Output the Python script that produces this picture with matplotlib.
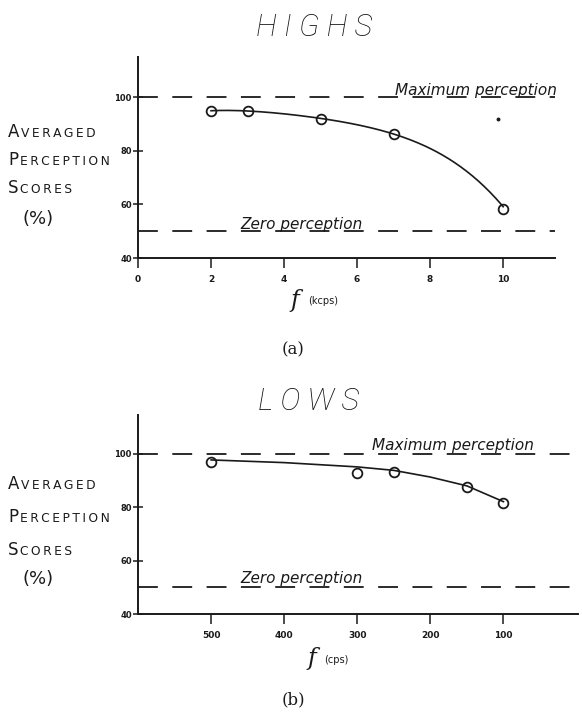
import numpy as np
import matplotlib
matplotlib.use("Agg")
import matplotlib.pyplot as plt

# (a) HIGHS, frequency in kcps
highs_f = [2, 3, 5, 7, 10]
highs_score = [95.0, 94.8, 92.0, 86.4, 58.3]
highs_xticks = [0, 2, 4, 6, 8, 10]
highs_stray = (9.85, 92.0)
# hand-drawn smooth curve
highs_curve_f = [2, 3, 4, 5, 6, 7, 8, 9, 10]
highs_curve_score = [95.0, 95.0, 93.8, 92.2, 89.7, 86.4, 81.0, 72.3, 59.2]

# (b) LOWS, frequency in cps
lows_f = [500, 300, 250, 150, 100]
lows_score = [97.0, 92.7, 93.0, 87.5, 81.5]
lows_xticks = [500, 400, 300, 200, 100]
lows_curve_f = [500, 400, 300, 250, 200, 150, 100]
lows_curve_score = [97.6, 96.6, 95.0, 93.7, 91.2, 87.9, 82.0]

yticks = [40, 60, 80, 100]
max_level = 100
zero_level = 50

W, H = 582, 712
INK = "#1a1a1a"
THIN = "\u2009"


def fpos(x, y):
    # pixel coords (from top-left) -> figure fraction
    return x / W, 1 - y / H


def smallcaps(fig, x, y, word, big=12, small=8.8):
    r = fig.canvas.get_renderer()
    t = fig.text(*fpos(x, y), word[0], fontsize=big, va="baseline", color=INK)
    bb = t.get_window_extent(r)
    rest = THIN.join(word[1:].upper())
    fig.text(bb.x1 / W + 0.003, 1 - y / H, rest, fontsize=small,
             va="baseline", color=INK)


def ylabel_block(fig, x, ys):
    for word, y in zip(["Averaged", "Perception", "Scores"], ys[:3]):
        smallcaps(fig, x, y, word)
    fig.text(*fpos(x + 14, ys[3]), "(%)", fontsize=13, va="baseline", color=INK)


def style_axes(ax, xlim, ylim, xticks):
    ax.set_xlim(*xlim)
    ax.set_ylim(*ylim)
    for s in ["top", "right"]:
        ax.spines[s].set_visible(False)
    for s in ["left", "bottom"]:
        ax.spines[s].set_linewidth(1.4)
        ax.spines[s].set_color(INK)
    ax.set_yticks(yticks)
    ax.set_xticks(xticks)
    ax.tick_params(axis="y", direction="inout", length=7, width=1.1,
                   labelsize=6, pad=1, colors=INK)
    ax.tick_params(axis="x", direction="out", length=7, width=1.1,
                   labelsize=6.5, pad=5, colors=INK)
    for lab in ax.get_xticklabels() + ax.get_yticklabels():
        lab.set_fontweight("bold")


def ref_lines(ax, x0, x1, max_text_x, zero_text_x, max_y_off, zero_y_off):
    kw = dict(color=INK, lw=1.3, dashes=(11, 8), clip_on=False)
    ax.plot([x0, x1], [max_level, max_level], **kw)
    ax.plot([x0, x1], [zero_level, zero_level], **kw)
    ax.text(max_text_x, max_level + max_y_off, "Maximum perception", fontsize=11,
            style="italic", va="baseline", ha="left", color=INK, clip_on=False)
    ax.text(zero_text_x, zero_level + zero_y_off, "Zero perception", fontsize=11,
            style="italic", va="baseline", ha="left", color=INK)


def smooth(x, y, deg):
    c = np.polyfit(x, y, deg)
    xs = np.linspace(min(x), max(x), 200)
    return xs, np.polyval(c, xs)


fig = plt.figure(figsize=(5.82, 7.12), dpi=100)

# ---- (a) HIGHS ----
ax1 = fig.add_axes([138 / W, 1 - 258 / H, 417 / W, 201 / H])
style_axes(ax1, (0, 11.42), (40, 115.1), highs_xticks)
ref_lines(ax1, 0, 11.42, 7.05, 2.8, max_y_off=0.8, zero_y_off=1.0)
ax1.plot(*smooth(highs_curve_f, highs_curve_score, 4), color=INK, lw=1.2)
ax1.plot(highs_f, highs_score, "o", mfc="none", mec=INK, mew=1.3, ms=7)
ax1.plot(*highs_stray, "o", color=INK, ms=1.8)

# ---- (b) LOWS ----
ax2 = fig.add_axes([138 / W, 1 - 614 / H, 440 / W, 199 / H])
style_axes(ax2, (600, -2), (40, 114.4), lows_xticks)
ref_lines(ax2, 600, 5, 280, 460, max_y_off=1.5, zero_y_off=1.5)
ax2.plot(lows_curve_f, lows_curve_score, color=INK, lw=1.2, solid_joinstyle="round")
ax2.plot(lows_f, lows_score, "o", mfc="none", mec=INK, mew=1.3, ms=7)

# titles and labels
title_kw = dict(fontsize=22, style="italic", family=["Roboto", "DejaVu Sans"],
                fontweight="light", ha="center", va="center", color="#111111")
fig.text(*fpos(314, 28), "H I G H S", **title_kw)
fig.text(*fpos(309, 402), "L O W S", **title_kw)

fig.text(*fpos(295, 300), "f", fontsize=17, family="DejaVu Serif",
         style="italic", ha="center", va="center", color=INK)
fig.text(*fpos(308, 301), "(kcps)", fontsize=7, ha="left", va="center", color=INK)
fig.text(*fpos(312, 659), "f", fontsize=17, family="DejaVu Serif",
         style="italic", ha="center", va="center", color=INK)
fig.text(*fpos(324, 660), "(cps)", fontsize=7, ha="left", va="center", color=INK)

fig.text(*fpos(293, 350), "(a)", fontsize=12, family="DejaVu Serif",
         ha="center", va="center", color=INK)
fig.text(*fpos(293, 700), "(b)", fontsize=12, family="DejaVu Serif",
         ha="center", va="center", color=INK)

ylabel_block(fig, 8, [137, 165, 193, 224])
ylabel_block(fig, 8, [489, 522, 555, 584])

fig.savefig("out.png", dpi=100, facecolor="white")
